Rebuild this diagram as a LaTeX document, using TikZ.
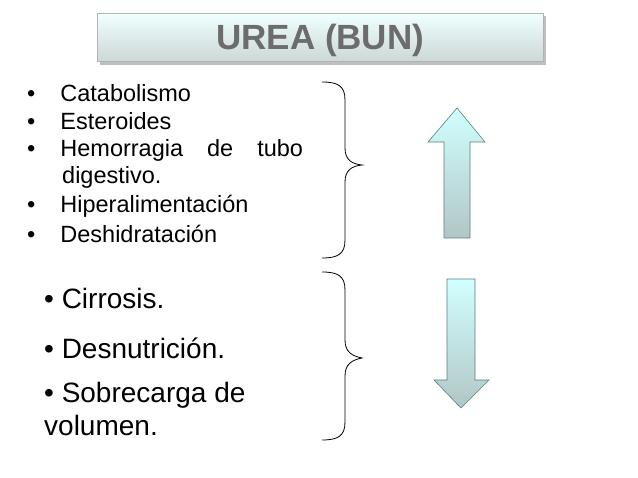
\documentclass[tikz,border=0pt]{standalone}
\usepackage{fontspec}
\setmainfont{Liberation Sans}
\begin{document}
\begin{tikzpicture}[x=1pt,y=-1pt,
  item/.style={anchor=west,inner sep=0pt,font=\fontsize{23.5}{25}\selectfont},
  bigitem/.style={anchor=west,inner sep=0pt,font=\fontsize{28}{30}\selectfont},
  brace/.style={draw=black,line width=0.8pt},
  arr/.style={draw=gray!70!teal,line width=0.6pt,top color=cyan!18!white,bottom color=teal!35!gray!45}]
\useasboundingbox (0,0) rectangle (638,478);
\fill[gray!50] (100,16) rectangle (546,65);
\node[draw=gray!60,minimum width=446pt,minimum height=48pt,anchor=north west,
  top color=cyan!6!white,bottom color=cyan!12!gray!35,inner sep=0pt] (title) at (97,13) {};
\node[font=\bfseries\fontsize{35}{37}\selectfont,text=gray!85!black] (tt) at ([yshift=-3pt]title.center) {UREA (BUN)};
\node[item] (a1) at (27,93) {•\hspace{25pt}Catabolismo};
\node[item] (a2) at (27,121) {•\hspace{25pt}Esteroides};
\node[item] (a3) at (27,150) {•\hspace{25pt}Hemorragia\hspace{24pt}de\hspace{24pt}tubo};
\node[item] (a4) at (62,177) {digestivo.};
\node[item] (a5) at (27,206) {•\hspace{25pt}Hiperalimentación};
\node[item] (a6) at (27,234) {•\hspace{25pt}Deshidratación};
\node[bigitem] (b1) at (44,298) {• Cirrosis.};
\node[bigitem] (b2) at (44,348) {• Desnutrición.};
\node[bigitem] (b3) at (44,395) {• Sobrecarga de};
\node[bigitem] (b4) at (44,425) {volumen.};
\draw[brace] (322,82) .. controls (338,82) and (345,86) .. (345,100) -- (345,148) .. controls (345,160) and (352,164) .. (362,165)
  .. controls (352,166) and (345,170) .. (345,182) -- (345,240) .. controls (345,254) and (338,258) .. (322,258);
\draw[brace] (322,272) .. controls (338,272) and (345,276) .. (345,290) -- (345,340) .. controls (345,352) and (352,356) .. (362,358)
  .. controls (352,360) and (345,364) .. (345,376) -- (345,422) .. controls (345,436) and (338,440) .. (322,440);
\path[arr] (457,108) -- (485,142) -- (470,142) -- (470,238) -- (444,238) -- (444,142) -- (428,142) -- cycle;
\path[arr] (447,279) -- (475,279) -- (475,380) -- (489,380) -- (461,408) -- (434,380) -- (447,380) -- cycle;
\end{tikzpicture}
\end{document}
